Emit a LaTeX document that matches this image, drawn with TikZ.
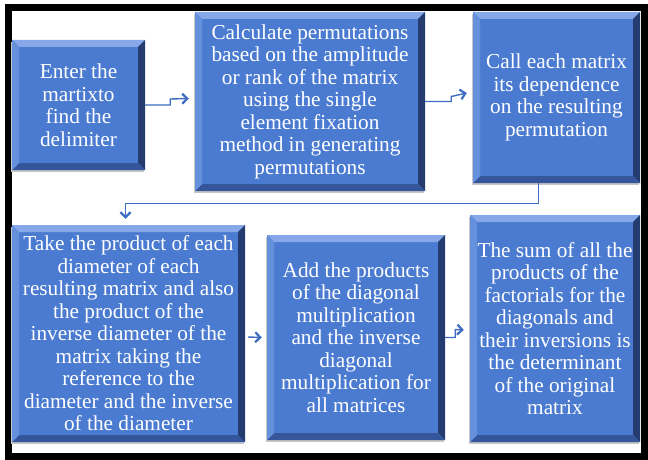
\documentclass[tikz,border=0pt]{standalone}
\usepackage{fontspec}
\setmainfont{Liberation Serif}
\usetikzlibrary{arrows.meta,calc}
\definecolor{boxblue}{HTML}{4B7BD1}
\definecolor{bevtop}{HTML}{86A8E8}
\definecolor{bevleft}{HTML}{6590DC}
\definecolor{bevright}{HTML}{243C70}
\definecolor{bevbot}{HTML}{35569A}
\definecolor{lineblue}{HTML}{3D6CC0}
\tikzset{
  bevbox/.style={fill=boxblue, text=white, align=center, inner sep=0pt,
    font=\fontsize{21.3}{22.5}\selectfont,
    preaction={fill=gray!45, transform canvas={shift={(-1.5pt,-2pt)}}},
    path picture={
      \coordinate (nw) at (path picture bounding box.north west);
      \coordinate (ne) at (path picture bounding box.north east);
      \coordinate (se) at (path picture bounding box.south east);
      \coordinate (sw) at (path picture bounding box.south west);
      \fill[bevtop] (nw) -- (ne) -- ($(ne)+(-7,-7)$) -- ($(nw)+(7,-7)$) -- cycle;
      \fill[bevright] (ne) -- (se) -- ($(se)+(-7,7)$) -- ($(ne)+(-7,-7)$) -- cycle;
      \fill[bevbot] (se) -- (sw) -- ($(sw)+(7,7)$) -- ($(se)+(-7,7)$) -- cycle;
      \fill[bevleft] (sw) -- (nw) -- ($(nw)+(7,-7)$) -- ($(sw)+(7,7)$) -- cycle;
    }},
  conn/.style={draw=lineblue, line width=1.4pt},
  arr/.style={conn, -{Straight Barb[length=5pt,width=10pt,line width=2.2pt]}}
}
\begin{document}
\begin{tikzpicture}[x=1pt,y=1pt]
\useasboundingbox (0,0) rectangle (648,-460);
\fill[white] (0,0) rectangle (648,-460);
\node[draw=black, line width=7pt, minimum width=636pt, minimum height=448pt, inner sep=0pt] (frame) at (326,-232) {};

\node[bevbox, minimum width=133pt, minimum height=130pt] (b1) at (78.5,-105)
  {Enter the\\martixto\\find the\\delimiter};
\node[bevbox, minimum width=230pt, minimum height=179pt] (b2) at (310,-101.5)
  {Calculate permutations\\based on the amplitude\\or rank of the matrix\\using the single\\element fixation\\method in generating\\permutations};
\node[bevbox, minimum width=167pt, minimum height=171pt] (b3) at (556.5,-97.5)
  {Call each matrix\\its dependence\\on the resulting\\permutation};
\node[bevbox, minimum width=233pt, minimum height=217pt] (b4) at (128.5,-333.5)
  {Take the product of each\\diameter of each\\resulting matrix and also\\the product of the\\inverse diameter of the\\matrix taking the\\reference to the\\diameter and the inverse\\of the diameter};
\node[bevbox, minimum width=178pt, minimum height=205pt] (b5) at (356,-337.5)
  {Add the products\\of the diagonal\\multiplication\\and the inverse\\diagonal\\multiplication for\\all matrices};
\node[bevbox, minimum width=170pt, minimum height=227pt] (b6) at (555,-328.5)
  {The sum of all the\\products of the\\factorials for the\\diagonals and\\their inversions is\\the determinant\\of the original\\matrix};

% connectors
\draw[arr] (b1.east) -- ++(25,0) -- ++(0,6) -- ($(b2.west)+(-6,3)$);
\draw[arr] (b2.east) -- ++(26,0) -- ++(0,5) -- ($(b3.west)+(-6,4.5)$);
\draw[arr] ($(b3.south)+(-18,0)$) -- ++(0,-20) -| ($(b4.north)+(-3,6)$);
\draw[arr] ($(b4.east)+(3,-3.5)$) -- ($(b5.west)+(-5,0)$);
\draw[arr] (b5.east) -- ++(10,0) -- ++(0,8) -- ($(b6.west)+(-6,-1.5)$);
\end{tikzpicture}
\end{document}
